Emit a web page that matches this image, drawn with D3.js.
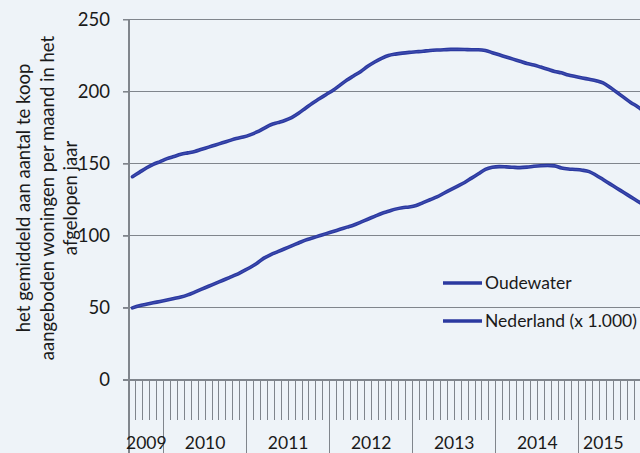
<!DOCTYPE html>
<html>
<head>
<meta charset="utf-8">
<script src="https://cdn.jsdelivr.net/npm/d3@7"></script>
<style>
  html, body { margin: 0; padding: 0; background: #eef3f8; }
  svg { display: block; }
  text { font-family: Lato, "Open Sans", sans-serif; fill: #1a1a1a; }
</style>
</head>
<body>
<svg id="chart" width="640" height="453"></svg>
<script>
// Monthly categories, August 2009 onwards
const months = d3.timeMonth.range(new Date(2009, 7, 1), new Date(2015, 10, 1));

// Average number of homes for sale per month over the past year
const oudewater = [
  141, 144, 147, 149.5, 151.5, 153.5, 155, 156.5, 157.5, 158.5,
  160, 161.5, 163, 164.5, 166, 167.5, 168.5, 170, 172, 174.5,
  177, 178.5, 180, 182, 185, 188.5, 192, 195, 198, 201,
  204.5, 208, 211, 214, 217.5, 220.5, 223, 225, 226, 226.7,
  227.2, 227.6, 228, 228.5, 228.8, 229, 229.3, 229.3, 229.2, 229,
  229, 228.5, 227, 225.5, 224, 222.5, 221, 219.5, 218.5, 217,
  215.5, 214, 213, 211.5, 210.5, 209.5, 208.5, 207.5, 206, 203,
  199.5, 196, 192.5, 189.5, 186
];
const nederland = [
  50, 51.5, 52.5, 53.5, 54.5, 55.5, 56.5, 57.5, 59, 61,
  63, 65, 67, 69, 71, 73, 75.5, 78, 81, 84.5,
  87, 89, 91, 93, 95, 97, 98.5, 100, 101.5, 103,
  104.5, 106, 107.5, 109.5, 111.5, 113.5, 115.5, 117, 118.5, 119.5,
  120, 121, 123, 125, 127, 129.5, 132, 134.5, 137, 140,
  143, 146, 147.5, 148, 147.8, 147.5, 147.3, 147.6, 148.2, 148.6,
  148.8, 148.5, 147, 146.3, 146, 145.5, 144.5, 142, 139, 136,
  133, 130, 127, 124, 121
];

const seriesNames = ["Oudewater", "Nederland (x 1.000)"];
const yTicks = [0, 50, 100, 150, 200, 250];
const yTitle = [
  "het gemiddeld aan aantal te koop",
  "aangeboden woningen per maand in het",
  "afgelopen jaar"
];

const W = 640, H = 453;
const left = 129, monthW = 6.92;
const svg = d3.select("#chart");

svg.append("rect").attr("width", W).attr("height", H).attr("fill", "#eef3f8");

const x = d3.scaleBand()
  .domain(months)
  .range([left, left + months.length * monthW])
  .paddingInner(0).paddingOuter(0);
const xc = d => x(d) + x.bandwidth() / 2;

const y = d3.scaleLinear().domain([0, 250]).range([380, 19.5]);

const gridColor = "#80858c";

// horizontal gridlines
svg.append("g").selectAll("line").data(yTicks.filter(v => v > 0)).join("line")
  .attr("x1", left - 6).attr("x2", W)
  .attr("y1", d => y(d)).attr("y2", d => y(d))
  .attr("stroke", gridColor).attr("stroke-width", 1.1)
  .attr("shape-rendering", "crispEdges");

// y axis
const yAxis = d3.axisLeft(y).tickValues(yTicks).tickSize(6).tickPadding(13);
const gy = svg.append("g").attr("transform", `translate(${left},0)`).call(yAxis);
gy.select(".domain").remove();
gy.selectAll(".tick line").attr("stroke", gridColor);
gy.selectAll(".tick text")
  .attr("font-size", 18.5)
  .attr("font-family", "Lato, sans-serif")
  .attr("fill", "#1a1a1a");

// vertical axis line
svg.append("line")
  .attr("x1", left).attr("x2", left).attr("y1", y(250)).attr("y2", H)
  .attr("stroke", gridColor).attr("stroke-width", 1.1).attr("shape-rendering", "crispEdges");

// baseline at zero
svg.append("line")
  .attr("x1", left - 6).attr("x2", W).attr("y1", y(0)).attr("y2", y(0))
  .attr("stroke", gridColor).attr("stroke-width", 1.1).attr("shape-rendering", "crispEdges");

// month ticks (short) and year boundaries (long)
const boundaries = months.slice(1).concat([d3.timeMonth.offset(months[months.length - 1], 1)]);
svg.append("g").selectAll("line").data(boundaries).join("line")
  .attr("x1", (d, i) => left + (i + 1) * monthW)
  .attr("x2", (d, i) => left + (i + 1) * monthW)
  .attr("y1", y(0))
  .attr("y2", d => d.getMonth() === 0 ? H : y(0) + 40)
  .attr("stroke", gridColor).attr("stroke-width", 1)
  .attr("shape-rendering", "crispEdges");

// year labels centred on each year's span of months
const years = d3.groups(months, d => d.getFullYear());
svg.append("g").selectAll("text").data(years).join("text")
  .attr("x", ([yr, ms]) => {
    const a = x(ms[0]);
    const b = Math.min(x(ms[ms.length - 1]) + monthW, W - 12);
    return (a + b) / 2;
  })
  .attr("y", 449)
  .attr("text-anchor", "middle")
  .attr("font-size", 17.5)
  .text(([yr]) => yr);

// series lines
const line = d3.line().x((d, i) => xc(months[i])).y(d => y(d)).curve(d3.curveMonotoneX);
const lineColor = "#2b39a0";
[oudewater, nederland].forEach(vals => {
  svg.append("path").datum(vals).attr("d", line)
    .attr("fill", "none").attr("stroke", lineColor).attr("stroke-width", 3.6)
    .attr("stroke-linejoin", "round").attr("stroke-linecap", "round");
  svg.append("path").datum(vals).attr("d", line)
    .attr("fill", "none").attr("stroke", "#5a68c4").attr("stroke-width", 0.8)
    .attr("stroke-opacity", 0.6);
});

// legend
const legendY = [283, 321];
const lg = svg.append("g");
seriesNames.forEach((name, i) => {
  lg.append("line")
    .attr("x1", 443).attr("x2", 482).attr("y1", legendY[i]).attr("y2", legendY[i])
    .attr("stroke", lineColor).attr("stroke-width", 3.4);
  lg.append("text")
    .attr("x", 485).attr("y", legendY[i]).attr("dy", "0.36em")
    .attr("font-size", 17.5)
    .text(name);
});

// y axis title, three rotated lines
const titleBaselines = [30, 54, 77];
const tg = svg.append("g").attr("transform", "translate(0,198) rotate(-90)");
yTitle.forEach((t, i) => {
  tg.append("text")
    .attr("x", 0).attr("y", titleBaselines[i])
    .attr("text-anchor", "middle")
    .attr("font-size", 18.5)
    .text(t);
});
</script>
</body>
</html>
